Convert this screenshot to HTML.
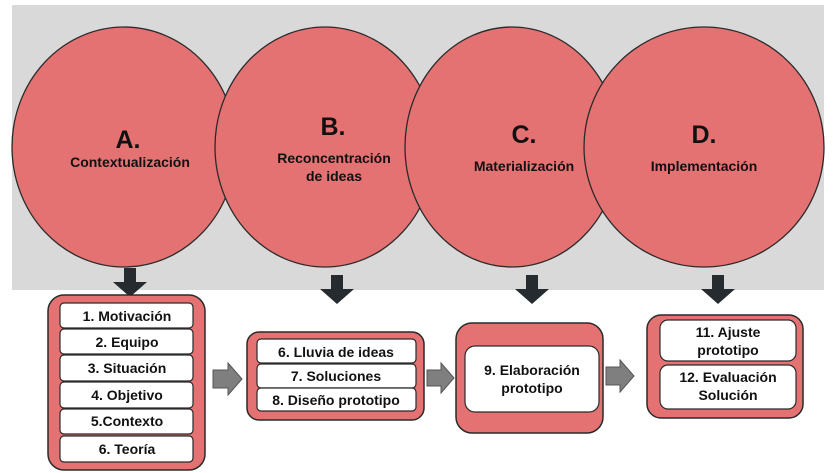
<!DOCTYPE html>
<html><head><meta charset="utf-8"><style>
html,body{margin:0;padding:0;background:#fff;}
svg{display:block;}
text{font-family:"Liberation Sans",sans-serif;font-weight:bold;fill:#111;text-anchor:middle;}
</style></head><body>
<svg width="836" height="473" viewBox="0 0 836 473" xmlns="http://www.w3.org/2000/svg">
<rect x="12" y="5" width="812" height="285" fill="#d9d9d9"/>
<g fill="#e57272" stroke="#2a2a2a" stroke-width="1.3">
<ellipse cx="124" cy="147" rx="112" ry="120"/>
<ellipse cx="325" cy="147" rx="110" ry="120"/>
<ellipse cx="512" cy="147" rx="107" ry="120"/>
<ellipse cx="704" cy="147" rx="120" ry="120"/>
</g>
<text x="128" y="148" font-size="25">A.</text>
<text x="130" y="167" font-size="14">Contextualización</text>
<text x="333" y="135" font-size="25">B.</text>
<text x="334" y="163" font-size="14">Reconcentración</text>
<text x="334" y="181" font-size="14">de ideas</text>
<text x="524" y="143" font-size="25">C.</text>
<text x="524" y="171" font-size="14">Materialización</text>
<text x="704" y="143" font-size="25">D.</text>
<text x="704" y="171" font-size="14">Implementación</text>
<g fill="#262b30">
<polygon points="124,268 136,268 136,282 147,282 130,297 113,282 124,282"/>
<polygon points="331,275 343,275 343,289 354,289 337,304 320,289 331,289"/>
<polygon points="526,275 538,275 538,289 549,289 532,304 515,289 526,289"/>
<polygon points="712,275 724,275 724,289 735,289 718,304 701,289 712,289"/>
</g>
<g fill="#7f7f7f" stroke="#555" stroke-width="1">
<polygon points="213,370 228,370 228,363 242,379 228,395 228,388 213,388"/>
<polygon points="427,370 441,370 441,363 454,378 441,393 441,386 427,386"/>
<polygon points="606,367 620,367 620,360 634,376 620,392 620,385 606,385"/>
</g>
<g fill="#e57272" stroke="#2a2a2a" stroke-width="1.5">
<rect x="48" y="295" width="157" height="175" rx="16"/>
<rect x="247" y="332" width="177" height="88" rx="12"/>
<rect x="456" y="323" width="147" height="110" rx="16"/>
<rect x="647" y="315" width="156" height="103" rx="14"/>
</g>
<g fill="#fff" stroke="#2a2a2a" stroke-width="1.2">
<rect x="60" y="303" width="133" height="25" rx="4"/>
<rect x="60" y="329" width="133" height="25" rx="4"/>
<rect x="60" y="355" width="133" height="26" rx="4"/>
<rect x="60" y="382" width="133" height="26" rx="4"/>
<rect x="60" y="409" width="133" height="25" rx="4"/>
<rect x="60" y="436" width="133" height="26" rx="4"/>
<rect x="257" y="339" width="159" height="24" rx="4"/>
<rect x="257" y="364" width="159" height="24" rx="4"/>
<rect x="257" y="388" width="159" height="23" rx="4"/>
<rect x="465" y="346" width="134" height="66" rx="10"/>
<rect x="660" y="320" width="136" height="41" rx="8"/>
<rect x="660" y="365" width="136" height="44" rx="8"/>
</g>
<g font-size="14">
<text x="127" y="321">1. Motivación</text>
<text x="127" y="347">2. Equipo</text>
<text x="127" y="373">3. Situación</text>
<text x="127" y="400">4. Objetivo</text>
<text x="127" y="426">5.Contexto</text>
<text x="127" y="454">6. Teoría</text>
<text x="336" y="357">6. Lluvia de ideas</text>
<text x="336" y="381">7. Soluciones</text>
<text x="336" y="405">8. Diseño prototipo</text>
<text x="532" y="375">9. Elaboración</text>
<text x="532" y="393">prototipo</text>
<text x="728" y="337">11. Ajuste</text>
<text x="728" y="355">prototipo</text>
<text x="728" y="382">12. Evaluación</text>
<text x="728" y="400">Solución</text>
</g>
</svg>
</body></html>
